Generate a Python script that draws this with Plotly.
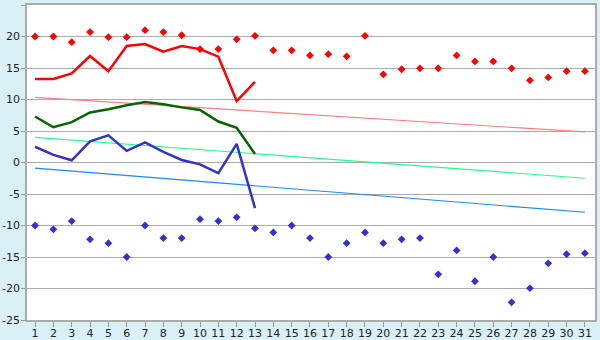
import plotly.graph_objects as go

days = list(range(1, 32))
record_max = [20.0, 20.0, 19.1, 20.7, 19.9, 19.9, 21.0, 20.7, 20.2, 18.0,
              18.0, 19.55, 20.1, 17.8, 17.8, 17.0, 17.2, 16.85, 20.1, 14.0,
              14.8, 14.95, 14.95, 17.0, 16.05, 16.05, 14.95, 13.05, 13.5, 14.5, 14.5]
record_min = [-10.0, -10.6, -9.3, -12.2, -12.8, -15.0, -10.0, -12.0, -12.0, -9.0,
              -9.3, -8.7, -10.45, -11.1, -10.0, -12.0, -15.0, -12.8, -11.1, -12.8,
              -12.2, -12.0, -17.75, -13.95, -18.85, -15.0, -22.2, -19.95, -16.0, -14.55, -14.4]
obs_days = list(range(1, 14))
obs_max = [13.25, 13.25, 14.15, 16.9, 14.5, 18.5, 18.8, 17.6, 18.5, 18.0, 16.8, 9.75, 12.8]
obs_mean = [7.3, 5.6, 6.4, 7.95, 8.45, 9.1, 9.6, 9.25, 8.75, 8.35, 6.5, 5.5, 1.35]
obs_min = [2.5, 1.2, 0.35, 3.35, 4.3, 1.85, 3.2, 1.7, 0.4, -0.3, -1.7, 2.95, -7.25]
norm_days = [1, 31]
norm_max = [10.35, 4.85]
norm_mean = [4.0, -2.5]
norm_min = [-0.9, -7.9]
y_ticks = [25, 20, 15, 10, 5, 0, -5, -10, -15, -20, -25]
y_labels = ["25", "20", "15", "10", "5", "0", "-5", "-10", "-15", "-20", "-25"]

fig = go.Figure()
fig.add_trace(go.Scatter(x=norm_days, y=norm_max, mode="lines",
                         line=dict(color="#ff8080", width=1.2)))
fig.add_trace(go.Scatter(x=norm_days, y=norm_mean, mode="lines",
                         line=dict(color="#22ff88", width=1.2)))
fig.add_trace(go.Scatter(x=norm_days, y=norm_min, mode="lines",
                         line=dict(color="#1a88ff", width=1.2)))
fig.add_trace(go.Scatter(x=obs_days, y=obs_max, mode="lines",
                         line=dict(color="#ff0000", width=2.5)))
fig.add_trace(go.Scatter(x=obs_days, y=obs_mean, mode="lines",
                         line=dict(color="#006600", width=2.5)))
fig.add_trace(go.Scatter(x=obs_days, y=obs_min, mode="lines",
                         line=dict(color="#3333cc", width=2.5)))
fig.add_trace(go.Scatter(x=days, y=record_max, mode="markers",
                         marker=dict(symbol="diamond", size=6, color="#ff0000")))
fig.add_trace(go.Scatter(x=days, y=record_min, mode="markers",
                         marker=dict(symbol="diamond", size=6, color="#3333cc")))

fig.update_layout(
    width=600, height=340,
    margin=dict(l=27, r=5, t=5, b=20),
    paper_bgcolor="#d9f0f7",
    plot_bgcolor="#ffffff",
    showlegend=False,
    font=dict(family="DejaVu Sans", size=11, color="#222222"),
)
fig.update_xaxes(range=[0.56, 31.55], tickmode="array", tickvals=days,
                 ticks="outside", ticklen=5, tickcolor="#999999",
                 ticklabelstandoff=-3,
                 showgrid=False, showline=True, linecolor="#aaaaaa", linewidth=1.5,
                 mirror=True, zeroline=False, fixedrange=True, automargin=False)
fig.update_yaxes(range=[-25, 25], tickmode="array", tickvals=y_ticks, ticktext=y_labels,
                 ticks="outside", ticklen=4, tickcolor="#999999",
                 ticklabelstandoff=-1,
                 showgrid=True, gridcolor="#aaaaaa", gridwidth=1.2,
                 showline=True, linecolor="#aaaaaa", linewidth=1.5,
                 mirror=True, zeroline=False, fixedrange=True, automargin=False)

fig.write_html("out.html", config={"displayModeBar": False})
